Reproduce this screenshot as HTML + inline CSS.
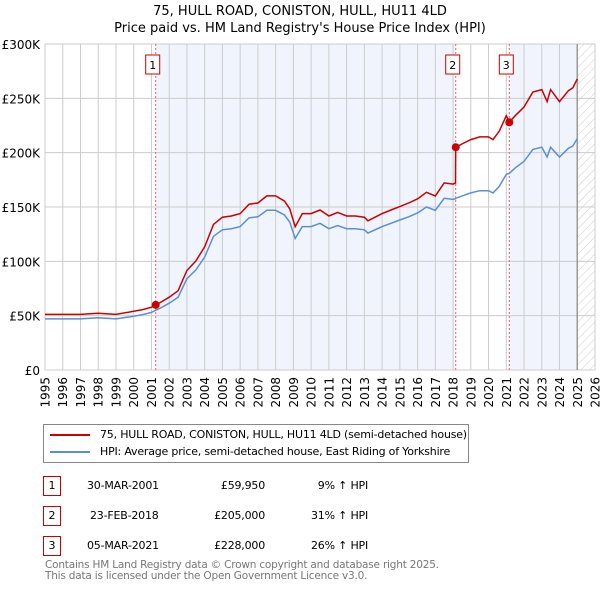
<!DOCTYPE html>
<html><head><meta charset="utf-8"><style>
body{margin:0;width:600px;height:590px;background:#fff;font-family:"DejaVu Sans","Liberation Sans",sans-serif;overflow:hidden;position:relative}
.t{position:absolute;font-size:11px;color:#000;white-space:nowrap;letter-spacing:-0.2px}
.box{position:absolute;width:16px;height:18px;border:1px solid #c00;font-size:11px;text-align:center;line-height:18px;background:#fff}
</style></head><body>
<svg id="chart" width="600" height="420" style="position:absolute;left:0;top:0" font-family="DejaVu Sans, Liberation Sans, sans-serif">
<defs><pattern id="hatch" width="6" height="6" patternUnits="userSpaceOnUse" patternTransform="rotate(45)"><line x1="0" y1="0" x2="0" y2="6" stroke="#ccc" stroke-width="1"/></pattern></defs>
<text x="300" y="15" text-anchor="middle" font-size="13">75, HULL ROAD, CONISTON, HULL, HU11 4LD</text>
<text x="300" y="32" text-anchor="middle" font-size="13">Price paid vs. HM Land Registry's House Price Index (HPI)</text>
<g id="bg"></g><g id="grid"></g><g id="series"></g><g id="axes"></g>
</svg>
<div style="position:absolute;left:43px;top:424px;width:424px;height:37px;border:1px solid #888;font-size:11px;letter-spacing:-0.2px">
 <div style="position:absolute;left:6px;top:3px;white-space:nowrap"><span style="display:inline-block;width:40px;height:2px;background:#c00;vertical-align:middle;margin-right:10px"></span>75, HULL ROAD, CONISTON, HULL, HU11 4LD (semi-detached house)</div>
 <div style="position:absolute;left:6px;top:20px;white-space:nowrap"><span style="display:inline-block;width:40px;height:2px;background:#5b8fd4;vertical-align:middle;margin-right:10px"></span>HPI: Average price, semi-detached house, East Riding of Yorkshire</div>
</div>
<div>
<div class="box" style="left:43px;top:476px">1</div>
<div class="t" style="left:87px;top:479px">30-MAR-2001</div>
<div class="t" style="left:195px;top:479px;width:70px;text-align:right">£59,950</div>
<div class="t" style="left:300px;top:479px;width:68px;text-align:right">9% ↑ HPI</div>
<div class="box" style="left:43px;top:506px">2</div>
<div class="t" style="left:90px;top:509px">23-FEB-2018</div>
<div class="t" style="left:195px;top:509px;width:70px;text-align:right">£205,000</div>
<div class="t" style="left:300px;top:509px;width:68px;text-align:right">31% ↑ HPI</div>
<div class="box" style="left:43px;top:536px">3</div>
<div class="t" style="left:87px;top:539px">05-MAR-2021</div>
<div class="t" style="left:195px;top:539px;width:70px;text-align:right">£228,000</div>
<div class="t" style="left:300px;top:539px;width:68px;text-align:right">26% ↑ HPI</div>
</div>
<div class="t" style="left:45px;top:560px;color:#777;line-height:11px;font-size:10.5px">Contains HM Land Registry data © Crown copyright and database right 2025.<br>This data is licensed under the Open Government Licence v3.0.</div>
<script>
const years=[1995,1996,1997,1998,1999,2000,2000.5,2001,2001.24,2001.5,2002,2002.5,2003,2003.5,2004,2004.5,2005,2005.5,2006,2006.5,2007,2007.5,2008,2008.5,2008.8,2009.1,2009.5,2010,2010.5,2011,2011.5,2012,2012.5,2013,2013.2,2014,2014.5,2015,2015.5,2016,2016.5,2017,2017.5,2018,2018.14,2018.15,2018.5,2019,2019.5,2020,2020.25,2020.6,2021,2021.17,2021.5,2022,2022.5,2023,2023.3,2023.5,2024,2024.5,2024.75,2025];
const hpi=[47,47,47,48,47,49.5,51,53,55,57,61.5,67,84,92,104,123,129,130,132,140,141,147,147,142.6,136,121,132,132,135,130,133,130,130,129,126,132,135,138,141,144.5,150,147,158,157,157.5,158,160,163,165,165,163,169,180,181,186,192,203,205,196,205,196,204,206,213];
const price=[51.2,51.2,51.2,52.3,51.2,54,55.6,57.8,59.95,62.1,67,73,91.6,100.3,113.4,134,140.6,141.7,143.9,152.6,153.7,160.2,160.2,155.4,148.2,131.9,143.9,143.9,147.2,141.7,145,141.7,141.7,140.6,137.3,143.9,147.2,150.4,153.7,157.5,163.5,160.2,172.2,171.1,172,205,208,212,214.5,214.5,212,219.7,234,228,234,242,255.8,258,247,258,247,257,259.6,268];
const saleYears=[2001.24,2018.15,2021.17];
const salePrices=[59.95,205,228];
const saleLabels=["1","2","3"];
const yTicks=[0,50,100,150,200,250,300];
const yTickLabels=["£0","£50K","£100K","£150K","£200K","£250K","£300K"];
const xTicks=[];for(let y=1995;y<=2026;y++)xTicks.push(y);
const NS="http://www.w3.org/2000/svg";
const X0=45,X1=595,Y0=370,Y1=44;
const xs=y=>X0+(y-1995)*(X1-X0)/31;
const ys=v=>Y0-v*(Y0-Y1)/300;
function mk(tag,attrs,parent){const e=document.createElementNS(NS,tag);for(const k in attrs)e.setAttribute(k,attrs[k]);parent.appendChild(e);return e;}
const bg=document.getElementById('bg'),grid=document.getElementById('grid'),ser=document.getElementById('series'),ax=document.getElementById('axes');
let r=mk('rect',{x:xs(saleYears[0]),y:Y1,width:xs(saleYears[1])-xs(saleYears[0]),height:Y0-Y1,fill:'#f0f4fc'},bg);

r=mk('rect',{x:xs(saleYears[2]),y:Y1,width:xs(2025)-xs(saleYears[2]),height:Y0-Y1,fill:'#f0f4fc'},bg);

r=mk('rect',{x:xs(2025),y:Y1,width:X1-xs(2025),height:Y0-Y1,fill:'url(#hatch)'},bg);

xTicks.forEach(t=>{const l=mk('line',{x1:xs(t),x2:xs(t),y1:Y1,y2:Y0,stroke:'#ccc','stroke-width':1},grid);

const px=xs(t)+4.5,py=377;
const tx=mk('text',{x:px,y:py,'font-size':12,'text-anchor':'end',transform:'rotate(-90 '+px+' '+py+')'},ax);tx.textContent=t;
});
yTicks.forEach((t,i)=>{const l=mk('line',{x1:X0,x2:X1,y1:ys(t),y2:ys(t),stroke:'#ccc','stroke-width':1},grid);

const tx=mk('text',{x:40,y:ys(t)+5,'font-size':12,'text-anchor':'end'},ax);tx.textContent=yTickLabels[i];
});
r=mk('rect',{x:X0,y:Y1,width:X1-X0,height:Y0-Y1,fill:'none',stroke:'#ccc'},grid);

let l=mk('line',{x1:xs(2025),x2:xs(2025),y1:Y1,y2:Y0,stroke:'#999','stroke-width':1.5},grid);

saleYears.forEach((s,i)=>{const v=mk('line',{x1:xs(s),x2:xs(s),y1:Y1,y2:Y0,stroke:'#f06060','stroke-dasharray':'2,2'},grid);
});
let p=mk('path',{d:years.map((y,i)=>(i?'L':'M')+xs(y).toFixed(1)+','+ys(hpi[i]).toFixed(1)).join(''),fill:'none',stroke:'#5b8fd4','stroke-width':1.5},ser);

p=mk('path',{d:years.map((y,i)=>(i?'L':'M')+xs(y).toFixed(1)+','+ys(price[i]).toFixed(1)).join(''),fill:'none',stroke:'#cc0000','stroke-width':1.5},ser);

saleYears.forEach((s,i)=>{const c=mk('circle',{cx:xs(s),cy:ys(salePrices[i]),r:4,fill:'#cc0000'},ser);

const b=mk('rect',{x:xs(s)-10,y:55,width:14,height:19,fill:'#fff',stroke:'#c00'},ser);

const t=mk('text',{x:xs(s)-3,y:69,'font-size':11,'text-anchor':'middle'},ser);t.textContent=saleLabels[i];
});
</script>
</body></html>
